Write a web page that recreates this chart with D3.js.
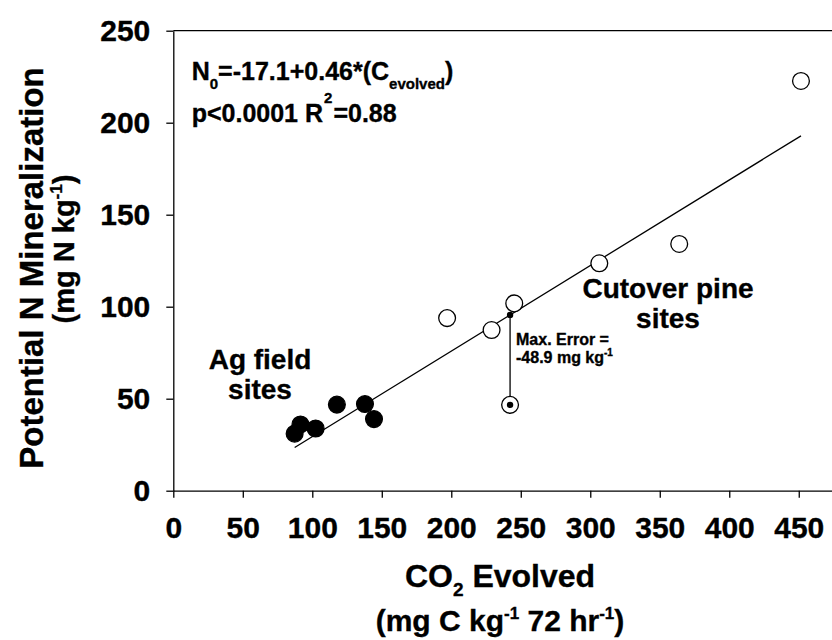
<!DOCTYPE html>
<html>
<head>
<meta charset="utf-8">
<script src="https://cdn.jsdelivr.net/npm/d3@7"></script>
<style>
  html, body { margin: 0; padding: 0; background: #fff; }
  svg { display: block; }
  text { font-family: Arial, "Liberation Sans", Helvetica, sans-serif; font-weight: bold; fill: #000; stroke: #000; stroke-width: 0.35px; }
</style>
</head>
<body>
<svg id="chart" width="832" height="640"></svg>
<script>
// Agricultural field sites: CO2 evolved vs potential N mineralization
const agCO2 = [87.3, 91.5, 102.4, 117.7, 137.9, 144.4];
const agN   = [31.0, 36.0, 33.8, 46.8, 47.1, 38.9];

// Cutover pine sites
const pineCO2 = [197.0, 229.0, 245.3, 242.3, 306.5, 364.0, 451.6];
const pineN   = [93.8, 87.3, 101.8, 46.65, 123.6, 134.1, 222.7];

// Regression N0 = a + b * C_evolved
const intercept = -17.1;
const slope = 0.4649;
const pValueText = "p<0.0001";
const rSquared = 0.88;

// Largest residual (the outlying pine site)
const maxErrorCO2 = 242.3;
const maxError = -48.9;

const xTicks = [0, 50, 100, 150, 200, 250, 300, 350, 400, 450];
const yTicks = [0, 50, 100, 150, 200, 250];

const svg = d3.select("#chart");

const x = d3.scaleLinear().domain([0, 475]).range([173.3, 833.5]);
const y = d3.scaleLinear().domain([0, 250]).range([490.7, 30.7]);

const fit = c => intercept + slope * c;

// Top border of the plotting frame
svg.append("line")
  .attr("x1", x(0)).attr("x2", 832).attr("y1", y(250)).attr("y2", y(250))
  .attr("stroke", "#000").attr("stroke-width", 1.3);

const xAxis = svg.append("g")
  .attr("transform", `translate(0,${y(0)})`)
  .call(d3.axisBottom(x).tickValues(xTicks).tickSize(7).tickSizeOuter(0).tickPadding(19).tickFormat(d3.format("d")));
const yAxis = svg.append("g")
  .attr("transform", `translate(${x(0)},0)`)
  .call(d3.axisLeft(y).tickValues(yTicks).tickSize(7).tickSizeOuter(0).tickPadding(16).tickFormat(d3.format("d")));

[xAxis, yAxis].forEach(g => {
  g.select(".domain").attr("stroke", "#000").attr("stroke-width", 1.3);
  g.selectAll(".tick line").attr("stroke", "#000").attr("stroke-width", 1.3);
  g.selectAll(".tick text")
    .attr("font-family", "Arial, 'Liberation Sans', sans-serif")
    .attr("font-weight", "bold")
    .attr("font-size", 30)
    .attr("fill", "#000");
});

// Regression line across the observed range
const allCO2 = agCO2.concat(pineCO2);
const [cMin, cMax] = d3.extent(allCO2);
svg.append("line")
  .attr("x1", x(cMin)).attr("y1", y(fit(cMin)))
  .attr("x2", x(cMax)).attr("y2", y(fit(cMax)))
  .attr("stroke", "#000").attr("stroke-width", 1.3);

// Residual segment for the maximum error
const predAtMax = fit(maxErrorCO2);
svg.append("line")
  .attr("x1", x(maxErrorCO2)).attr("y1", y(predAtMax))
  .attr("x2", x(maxErrorCO2)).attr("y2", y(predAtMax + maxError))
  .attr("stroke", "#000").attr("stroke-width", 1.3);

// Points
const r = 8.4;
svg.append("g").selectAll("circle")
  .data(d3.zip(pineCO2, pineN))
  .join("circle")
  .attr("cx", d => x(d[0])).attr("cy", d => y(d[1])).attr("r", r)
  .attr("fill", "#fff").attr("stroke", "#000").attr("stroke-width", 1.3);

svg.append("g").selectAll("circle")
  .data(d3.zip(agCO2, agN))
  .join("circle")
  .attr("cx", d => x(d[0])).attr("cy", d => y(d[1])).attr("r", r)
  .attr("fill", "#000").attr("stroke", "#000").attr("stroke-width", 1.3);

// Small markers at both ends of the residual
svg.append("circle").attr("cx", x(maxErrorCO2)).attr("cy", y(predAtMax)).attr("r", 3.2).attr("fill", "#000");
svg.append("circle").attr("cx", x(maxErrorCO2)).attr("cy", y(predAtMax + maxError)).attr("r", 3.2).attr("fill", "#000");

// Regression equation
const eq = svg.append("text").attr("x", 191.7).attr("y", 80).attr("font-size", 25);
eq.append("tspan").text("N");
eq.append("tspan").attr("font-size", 15).attr("dy", 9).text("0");
eq.append("tspan").attr("dy", -9).text(`=${intercept}+${d3.format(".2f")(slope)}*(C`);
eq.append("tspan").attr("font-size", 15).attr("dy", 9).text("evolved");
eq.append("tspan").attr("dy", -9).text(")");

const stat = svg.append("text").attr("x", 191.7).attr("y", 122).attr("font-size", 25);
stat.append("tspan").text(`${pValueText} R`);
stat.append("tspan").attr("font-size", 15).attr("dy", -19).attr("dx", 1).text("2");
stat.append("tspan").attr("dy", 19).attr("dx", 1).text(`=${d3.format(".2f")(rSquared)}`);

// Group labels (two lines each)
function twoLine(cx, y1, lineGap, lines, size) {
  const t = svg.append("text").attr("x", cx).attr("y", y1).attr("font-size", size).attr("text-anchor", "middle");
  lines.forEach((s, i) => t.append("tspan").attr("x", cx).attr("dy", i === 0 ? 0 : lineGap).text(s));
  return t;
}
twoLine(260, 369, 30, ["Ag field", "sites"], 28);
twoLine(668, 298, 30, ["Cutover pine", "sites"], 28);

// Max error annotation
const me = svg.append("text").attr("x", 516).attr("y", 345).attr("font-size", 16);
me.append("tspan").attr("x", 516).text("Max. Error =");
me.append("tspan").attr("x", 516).attr("dy", 18.3).text(`${maxError} mg kg`);
me.append("tspan").attr("font-size", 10).attr("dy", -7).text("-1");

// X axis title
const xt1 = svg.append("text").attr("x", 500).attr("y", 587).attr("font-size", 32).attr("text-anchor", "middle");
xt1.append("tspan").text("CO");
xt1.append("tspan").attr("font-size", 19).attr("dy", 9).text("2");
xt1.append("tspan").attr("dy", -9).text(" Evolved");

const xt2 = svg.append("text").attr("x", 500).attr("y", 631).attr("font-size", 30).attr("text-anchor", "middle");
xt2.append("tspan").text("(mg C kg");
xt2.append("tspan").attr("font-size", 17).attr("dy", -12).text("-1");
xt2.append("tspan").attr("dy", 12).text(" 72 hr");
xt2.append("tspan").attr("font-size", 17).attr("dy", -12).text("-1");
xt2.append("tspan").attr("dy", 12).text(")");

// Y axis title
svg.append("text")
  .attr("transform", "translate(43,268) rotate(-90)")
  .attr("font-size", 33).attr("text-anchor", "middle")
  .text("Potential N Mineralization");
const yt2 = svg.append("text")
  .attr("transform", "translate(74,249) rotate(-90)")
  .attr("font-size", 29).attr("text-anchor", "middle");
yt2.append("tspan").text("(mg N kg");
yt2.append("tspan").attr("font-size", 17).attr("dy", -12).text("-1");
yt2.append("tspan").attr("dy", 12).text(")");
</script>
</body>
</html>
